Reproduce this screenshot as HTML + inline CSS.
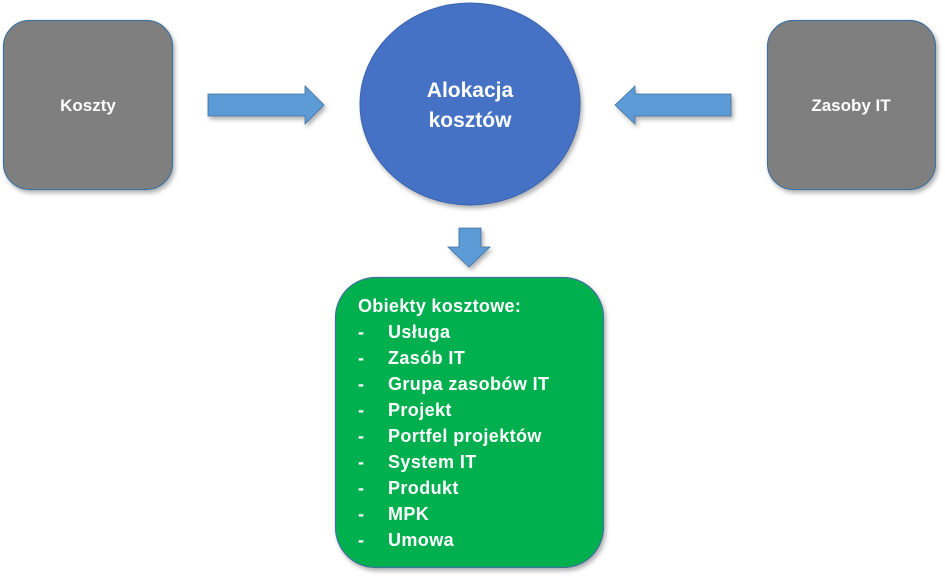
<!DOCTYPE html>
<html><head><meta charset="utf-8"><style>
html,body{margin:0;padding:0;background:#fff;width:945px;height:579px;overflow:hidden}
svg{display:block}
text{font-family:"Liberation Sans",sans-serif;font-weight:bold;fill:#fff}
</style></head><body>
<svg width="945" height="579" viewBox="0 0 945 579" xmlns="http://www.w3.org/2000/svg">
<defs>
<filter id="sh" x="-10%" y="-10%" width="130%" height="130%"><feDropShadow dx="2" dy="3" stdDeviation="2" flood-color="#000" flood-opacity="0.3"/></filter>
</defs>
<rect x="3.5" y="20.5" width="169" height="169" rx="26" fill="#7f7f7f" stroke="#41719c" stroke-width="1.2" filter="url(#sh)"/>
<text x="88" y="111" font-size="17" text-anchor="middle">Koszty</text>
<rect x="767.5" y="20.5" width="168" height="169" rx="26" fill="#7f7f7f" stroke="#41719c" stroke-width="1.2" filter="url(#sh)"/>
<text x="851" y="111" font-size="17" text-anchor="middle">Zasoby IT</text>
<ellipse cx="470" cy="104" rx="110" ry="101" fill="#4472c4" stroke="#3a63ad" stroke-width="1" filter="url(#sh)"/>
<text x="470" y="97" font-size="21" text-anchor="middle">Alokacja</text>
<text x="470" y="127" font-size="21" text-anchor="middle">kosztów</text>
<polygon points="208,94 305,94 305,86 324,105 305,124 305,116 208,116" fill="#5b9bd5" stroke="#41719c" stroke-width="0.8" filter="url(#sh)"/>
<polygon points="731,94 635,94 635,86 615,105 635,124 635,116 731,116" fill="#5b9bd5" stroke="#41719c" stroke-width="0.8" filter="url(#sh)"/>
<polygon points="459,228 481,228 481,247 490,247 469,267 448,247 459,247" fill="#5b9bd5" stroke="#41719c" stroke-width="0.8" filter="url(#sh)"/>
<rect x="335.5" y="277.5" width="268" height="290" rx="40" fill="#00b050" stroke="#41719c" stroke-width="1.2" filter="url(#sh)"/>
<g font-size="18">
<text x="358" y="312" letter-spacing="0.3">Obiekty kosztowe:</text>
<text x="358" y="338" font-weight="normal">-</text><text x="388" y="338" letter-spacing="0.4">Usługa</text>
<text x="358" y="364" font-weight="normal">-</text><text x="388" y="364" letter-spacing="0.4">Zasób  IT</text>
<text x="358" y="390" font-weight="normal">-</text><text x="388" y="390" letter-spacing="0.4">Grupa zasobów IT</text>
<text x="358" y="416" font-weight="normal">-</text><text x="388" y="416" letter-spacing="0.4">Projekt</text>
<text x="358" y="442" font-weight="normal">-</text><text x="388" y="442" letter-spacing="0.4">Portfel projektów</text>
<text x="358" y="468" font-weight="normal">-</text><text x="388" y="468" letter-spacing="0.4">System IT</text>
<text x="358" y="494" font-weight="normal">-</text><text x="388" y="494" letter-spacing="0.4">Produkt</text>
<text x="358" y="520" font-weight="normal">-</text><text x="388" y="520" letter-spacing="0.4">MPK</text>
<text x="358" y="546" font-weight="normal">-</text><text x="388" y="546" letter-spacing="0.4">Umowa</text>
</g>
</svg>
</body></html>
